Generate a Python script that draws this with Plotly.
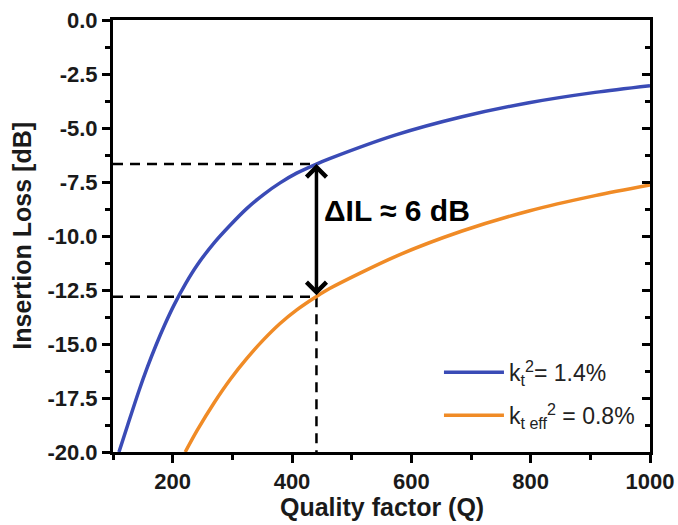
import plotly.graph_objects as go

# ---- data ----
Q_BLUE = [110, 124.5, 143.8, 157.8, 171.7, 186.7, 202.2, 221.7, 241.2, 268.8, 296.7,
          324.5, 352.2, 380, 407.8, 441, 463, 574, 685, 797, 908, 1000]
IL_BLUE = [-20.0, -18.76, -17.14, -16.06, -15.08, -14.11, -13.20, -12.20, -11.34, -10.34, -9.49,
           -8.72, -8.08, -7.54, -7.09, -6.67, -6.42, -5.32, -4.48, -3.83, -3.35, -3.04]

Q_ORANGE = [221, 241, 269, 297, 324, 352, 380, 408, 441, 463, 574, 685, 797, 908, 1000]
IL_ORANGE = [-20.0, -19.0, -17.74, -16.62, -15.68, -14.81, -14.05, -13.42, -12.80, -12.43,
             -10.94, -9.77, -8.84, -8.13, -7.64]

Q_MARK = 441
IL_MARK_BLUE = -6.67
IL_MARK_ORANGE = -12.81

NAME_BLUE = "k<sub>t</sub><sup>2</sup>= 1.4%"
NAME_ORANGE = "k<sub>t eff</sub><sup>2</sup> = 0.8%"
ANNOT_TEXT = "\u0394IL \u2248 6 dB"
ANNOT_POS = (450, -8.84)
X_TITLE = "Quality factor (Q)"
Y_TITLE = "Insertion Loss [dB]"

X_RANGE = [100, 1000]
Y_RANGE = [-20, 0]
X_TICKS = [200, 400, 600, 800, 1000]
X_TICK_TEXT = ["200", "400", "600", "800", "1000"]
Y_TICKS = [0, -2.5, -5, -7.5, -10, -12.5, -15, -17.5, -20]
Y_TICK_TEXT = ["0.0", "-2.5", "-5.0", "-7.5", "-10.0", "-12.5", "-15.0", "-17.5", "-20.0"]

BLUE = "#3a4bb6"
ORANGE = "#f08b26"
FONT = "Liberation Sans, Arial, sans-serif"

fig = go.Figure()

# dashed guide lines
dash_style = dict(color="black", width=2.5, dash="10px,7px")
fig.add_trace(go.Scatter(x=[X_RANGE[0], Q_MARK], y=[IL_MARK_BLUE, IL_MARK_BLUE], mode="lines",
                         line=dash_style, showlegend=False, hoverinfo="skip"))
fig.add_trace(go.Scatter(x=[X_RANGE[0], Q_MARK, Q_MARK], y=[IL_MARK_ORANGE, IL_MARK_ORANGE, Y_RANGE[0]],
                         mode="lines", line=dash_style, showlegend=False, hoverinfo="skip"))

fig.add_trace(go.Scatter(x=Q_BLUE, y=IL_BLUE, mode="lines", name=NAME_BLUE,
                         line=dict(color=BLUE, width=3.5, shape="spline", smoothing=0.8),
                         legendgroup="a"))
fig.add_trace(go.Scatter(x=Q_ORANGE, y=IL_ORANGE, mode="lines", name=NAME_ORANGE,
                         line=dict(color=ORANGE, width=3.5, shape="spline", smoothing=0.8),
                         legendgroup="b"))
# empty trace to bind the mirrored right axis
fig.add_trace(go.Scatter(x=[], y=[], yaxis="y2", showlegend=False, hoverinfo="skip"))

fig.add_annotation(x=Q_MARK, y=IL_MARK_BLUE, ax=Q_MARK, ay=IL_MARK_ORANGE,
                   xref="x", yref="y", axref="x", ayref="y",
                   showarrow=True, arrowhead=4, startarrowhead=4, arrowside="end+start",
                   arrowsize=1.1, startarrowsize=1.1, arrowwidth=3.5, arrowcolor="black",
                   standoff=0, startstandoff=0, text="")
fig.add_annotation(x=ANNOT_POS[0], y=ANNOT_POS[1], xref="x", yref="y", text=ANNOT_TEXT,
                   showarrow=False, xanchor="left", yanchor="middle",
                   font=dict(family=FONT, size=30, color="black", weight="bold"))

axis_font = dict(family=FONT, size=22, color="#1a1a1a", weight="bold")
title_font = dict(family=FONT, size=25, color="#1a1a1a", weight="bold")

# axis titles
fig.add_annotation(x=0.5, y=-0.127, xref="paper", yref="paper", text=X_TITLE,
                   showarrow=False, xanchor="center", yanchor="middle", font=title_font)
fig.add_annotation(x=-0.17, y=0.5, xref="paper", yref="paper", text=Y_TITLE, textangle=-90,
                   showarrow=False, xanchor="center", yanchor="middle", font=title_font)

fig.update_layout(
    width=678, height=525,
    margin=dict(l=113, r=28, t=20, b=73, autoexpand=False),
    paper_bgcolor="white", plot_bgcolor="white",
    showlegend=True,
    legend=dict(x=0.607, y=0.035, xanchor="left", yanchor="bottom",
                font=dict(family=FONT, size=23, color="#222"),
                bgcolor="rgba(0,0,0,0)", tracegroupgap=10, itemwidth=60),
    xaxis=dict(range=X_RANGE, tickmode="array", tickvals=X_TICKS, ticktext=X_TICK_TEXT,
               showline=True, linecolor="black", linewidth=3, mirror=True, automargin=False,
               ticks="outside", ticklen=8, tickwidth=2.5, tickcolor="black", ticklabeloverflow="allow",
               minor=dict(dtick=100, tick0=0, ticks="outside", ticklen=5, tickwidth=2.5, tickcolor="black"),
               showgrid=False, zeroline=False, tickfont=axis_font),
    yaxis=dict(range=Y_RANGE, tickmode="array", tickvals=Y_TICKS, ticktext=Y_TICK_TEXT,
               showline=True, linecolor="black", linewidth=3, mirror=False, automargin=False,
               ticks="outside", ticklen=8, tickwidth=2.5, tickcolor="black", ticklabeloverflow="allow",
               minor=dict(dtick=1.25, tick0=0, ticks="outside", ticklen=5, tickwidth=2.5, tickcolor="black"),
               showgrid=False, zeroline=False, tickfont=axis_font),
    yaxis2=dict(range=Y_RANGE, overlaying="y", side="right", tickmode="array", tickvals=Y_TICKS,
                showticklabels=False, showline=True, linecolor="black", linewidth=3, automargin=False,
                ticks="inside", ticklen=8, tickwidth=2.5, tickcolor="black",
                minor=dict(dtick=1.25, tick0=0, ticks="inside", ticklen=5, tickwidth=2.5, tickcolor="black"),
                showgrid=False, zeroline=False),
)

# remove the default 8px page margin so the figure fills the window exactly
fig.write_html("out.html", config={"displayModeBar": False},
               post_script="document.body.style.margin='0';document.body.style.overflow='hidden';")
